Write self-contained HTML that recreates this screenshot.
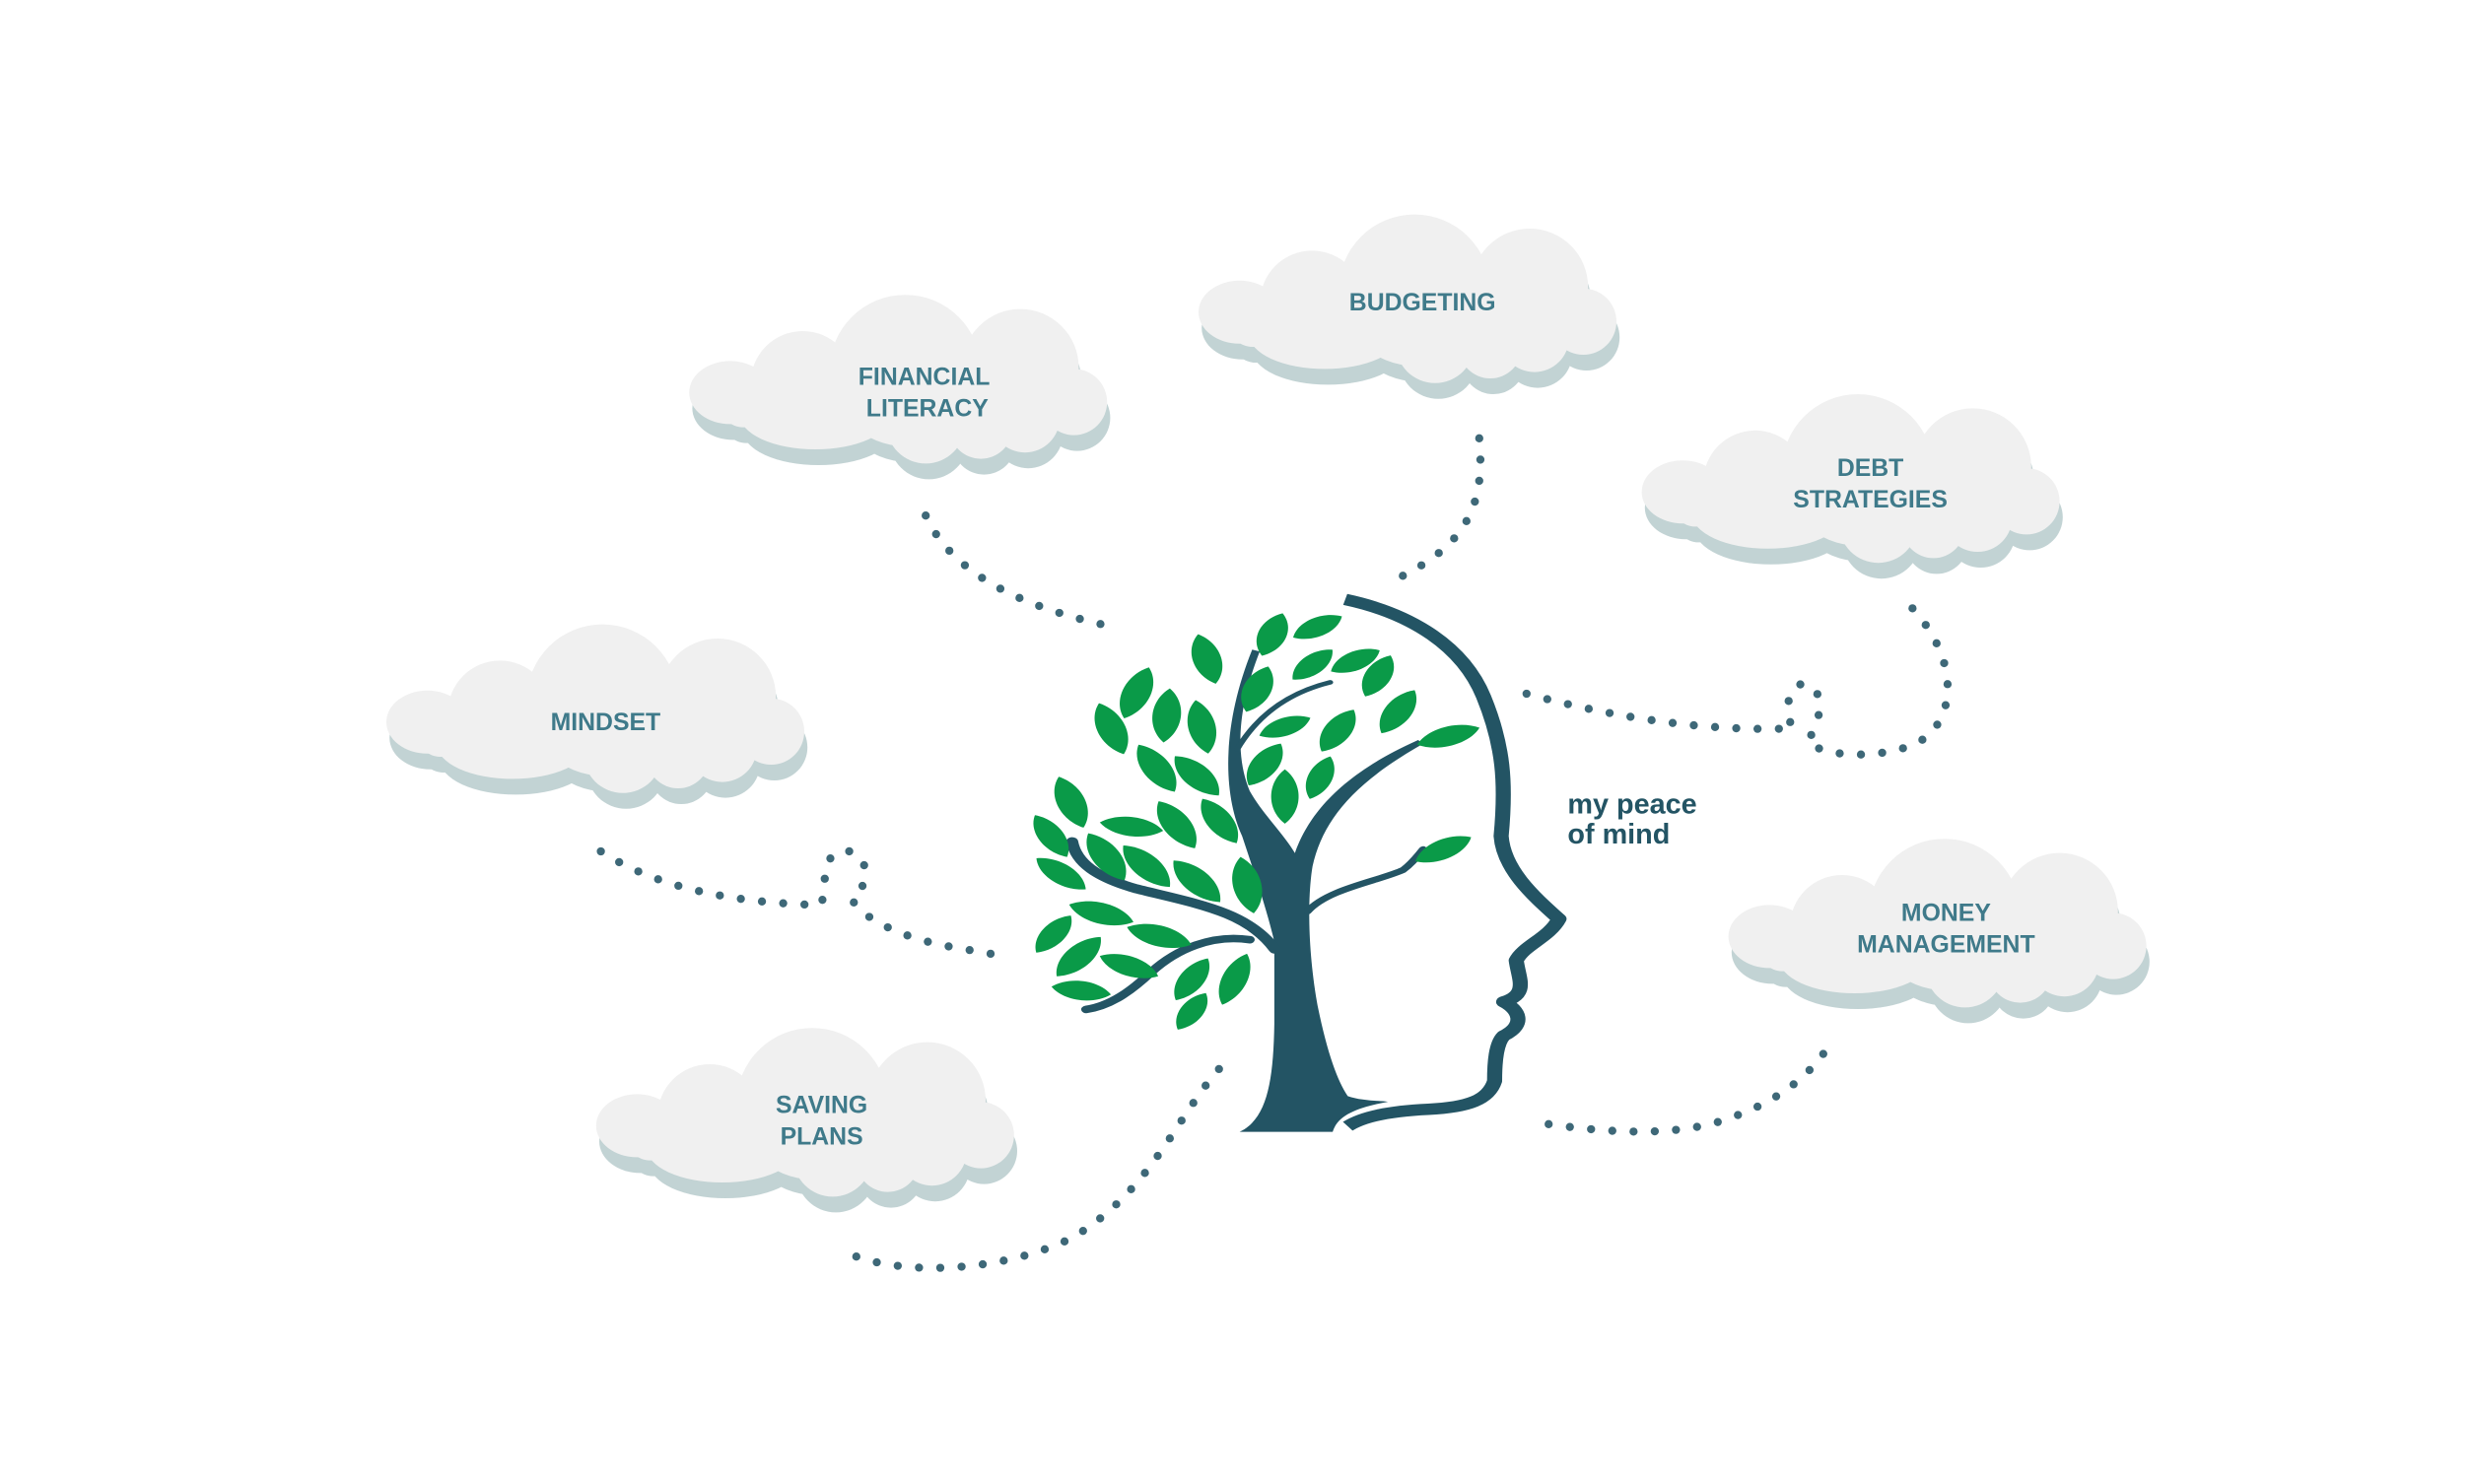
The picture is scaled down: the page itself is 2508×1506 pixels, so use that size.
<!DOCTYPE html>
<html><head><meta charset="utf-8"><style>
html,body{margin:0;padding:0;background:#fff;}
svg{display:block;}
.t{font-family:"Liberation Sans",sans-serif;font-weight:bold;fill:#3f7a8a;font-size:15.5px;text-anchor:middle;}
.d{fill:none;stroke:#3e6878;stroke-width:5.2;stroke-linecap:round;stroke-dasharray:0 13.5;}
</style></head><body>
<svg width="2508" height="1506" viewBox="0 0 1567.5 941.25" preserveAspectRatio="none" xmlns="http://www.w3.org/2000/svg">
<defs>
<g id="cs">
  <ellipse cx="26" cy="62" rx="26" ry="20"/>
  <circle cx="72" cy="56" r="33"/>
  <circle cx="137" cy="48" r="48"/>
  <circle cx="210" cy="46" r="37"/>
  <circle cx="244" cy="68" r="21"/>
  <rect x="20" y="48" width="228" height="36" rx="14"/>
  <ellipse cx="80" cy="76" rx="48" ry="22"/>
  <circle cx="150" cy="82" r="25"/>
  <circle cx="185" cy="84" r="20"/>
  <circle cx="213" cy="78" r="22"/>
</g>
<g id="cloud">
  <use href="#cs" x="2" y="10" fill="#c2d3d4"/>
  <use href="#cs" fill="#f0f0f0"/>
</g>
<path id="leaf" d="M0,-20 C13,-10 13,10 0,20 C-13,10 -13,-10 0,-20Z"/>
</defs>

<use href="#cloud" x="437" y="187"/>
<text class="t" x="586" y="244">FINANCIAL</text><text class="t" x="588" y="264">LITERACY</text>
<use href="#cloud" x="760" y="136"/>
<text class="t" x="902" y="197">BUDGETING</text>
<use href="#cloud" x="1041" y="250"/>
<text class="t" x="1186" y="302">DEBT</text><text class="t" x="1186" y="322">STRATEGIES</text>
<use href="#cloud" x="245" y="396"/>
<text class="t" x="384" y="463">MINDSET</text>
<use href="#cloud" x="1096" y="532"/>
<text class="t" x="1234" y="584">MONEY</text><text class="t" x="1234" y="604">MANAGEMENT</text>
<use href="#cloud" x="378" y="652"/>
<text class="t" x="521" y="706">SAVING</text><text class="t" x="521" y="726">PLANS</text>

<path class="d" d="M587,327 Q610,378 708,398"/>
<path class="d" d="M938,278 C942,320 930,345 888,366"/>
<path class="d" d="M968,440 Q1060,465 1137,462 C1130,450 1135,432 1145,434 C1158,437 1155,458 1146,470 C1155,480 1190,482 1214,472 C1240,460 1245,420 1211,384"/>
<path class="d" d="M381,540 Q430,572 520,574 C526,565 518,545 533,540 C548,537 556,558 540,570 C546,582 570,594 600,600 L640,607"/>
<path class="d" d="M543,797 C580,810 640,805 680,785 C730,755 745,710 773,678"/>
<path class="d" d="M982,713 C1030,720 1070,720 1100,708 C1130,697 1150,680 1161,661"/>

<g transform="translate(625,363) scale(0.3189,0.239)">
  <path d="M715,72 C850,110 950,200 990,330 C1030,460 1035,560 1025,700 C1030,790 1090,860 1140,920 C1120,970 1070,990 1055,1030 C1060,1080 1080,1120 1030,1140 C1060,1160 1075,1200 1030,1230 C1015,1250 1012,1300 1012,1350 C1000,1400 960,1420 880,1425 C800,1430 750,1445 720,1470" fill="none" stroke="#235464" stroke-width="30" stroke-linejoin="round"/>
  <g fill="#235464">
    <path d="M505,1485 C560,1450 572,1350 574,1200 L574,980 C560,900 535,800 510,700 C475,600 465,420 530,205 L545,210 C495,380 500,500 525,580 C550,640 590,690 615,745 C640,650 700,540 860,445 L870,455 C730,560 670,660 650,780 C640,860 640,1000 660,1150 C680,1280 700,1350 720,1390 C745,1402 780,1402 800,1405 C740,1420 700,1440 690,1485 Z"/>
  </g>
  <g fill="none" stroke="#235464" stroke-linecap="round">
    <path d="M575,1000 C520,900 420,880 300,840 C220,810 180,770 172,715" stroke-width="24"/>
    <path d="M525,975 C450,960 380,1000 330,1060 C290,1110 250,1150 200,1160" stroke-width="20"/>
    <path d="M640,900 C680,840 780,820 830,790 C850,770 860,750 870,735" stroke-width="16"/>
    <path d="M500,470 C540,380 600,320 685,292" stroke-width="12"/>
  </g>
  <g fill="#0a9a48">
    <use href="#leaf" transform="translate(570,165) rotate(20) scale(2.9,3)"/>
    <use href="#leaf" transform="translate(660,145) rotate(60) scale(2.5,2.8)"/>
    <use href="#leaf" transform="translate(440,230) rotate(-15) scale(2.9,3.4)"/>
    <use href="#leaf" transform="translate(540,310) rotate(20) scale(2.9,3.2)"/>
    <use href="#leaf" transform="translate(650,245) rotate(45) scale(2.5,2.8)"/>
    <use href="#leaf" transform="translate(735,235) rotate(60) scale(2.5,2.8)"/>
    <use href="#leaf" transform="translate(780,275) rotate(25) scale(2.7,3)"/>
    <use href="#leaf" transform="translate(300,320) rotate(20) scale(2.9,3.6)"/>
    <use href="#leaf" transform="translate(360,380) rotate(5) scale(2.9,3.6)"/>
    <use href="#leaf" transform="translate(430,410) rotate(-10) scale(2.8,3.6)"/>
    <use href="#leaf" transform="translate(820,370) rotate(30) scale(2.8,3.3)"/>
    <use href="#leaf" transform="translate(595,410) rotate(65) scale(2.4,2.8)"/>
    <use href="#leaf" transform="translate(700,420) rotate(30) scale(2.8,3.2)"/>
    <use href="#leaf" transform="translate(920,435) rotate(70) scale(2.6,3.3)"/>
    <use href="#leaf" transform="translate(250,415) rotate(-20) scale(2.9,3.6)"/>
    <use href="#leaf" transform="translate(340,520) rotate(-30) scale(2.9,3.6)"/>
    <use href="#leaf" transform="translate(420,540) rotate(-40) scale(2.9,3.4)"/>
    <use href="#leaf" transform="translate(555,510) rotate(30) scale(2.8,3.2)"/>
    <use href="#leaf" transform="translate(665,545) rotate(20) scale(2.5,3)"/>
    <use href="#leaf" transform="translate(170,610) rotate(-20) scale(2.9,3.6)"/>
    <use href="#leaf" transform="translate(595,595) rotate(0) scale(2.8,3.6)"/>
    <use href="#leaf" transform="translate(290,675) rotate(-80) scale(2.6,3.2)"/>
    <use href="#leaf" transform="translate(380,670) rotate(-30) scale(2.9,3.6)"/>
    <use href="#leaf" transform="translate(465,660) rotate(-30) scale(2.7,3.4)"/>
    <use href="#leaf" transform="translate(130,700) rotate(-30) scale(2.6,3.2)"/>
    <use href="#leaf" transform="translate(150,800) rotate(-50) scale(2.6,3.2)"/>
    <use href="#leaf" transform="translate(240,755) rotate(-30) scale(2.9,3.6)"/>
    <use href="#leaf" transform="translate(320,780) rotate(-40) scale(2.9,3.6)"/>
    <use href="#leaf" transform="translate(420,820) rotate(-40) scale(2.9,3.6)"/>
    <use href="#leaf" transform="translate(520,830) rotate(-10) scale(2.9,3.8)"/>
    <use href="#leaf" transform="translate(910,735) rotate(60) scale(2.6,3.2)"/>
    <use href="#leaf" transform="translate(230,905) rotate(-70) scale(2.8,3.4)"/>
    <use href="#leaf" transform="translate(135,960) rotate(35) scale(2.5,3)"/>
    <use href="#leaf" transform="translate(345,965) rotate(-70) scale(2.8,3.4)"/>
    <use href="#leaf" transform="translate(185,1020) rotate(40) scale(2.8,3.4)"/>
    <use href="#leaf" transform="translate(285,1045) rotate(-65) scale(2.6,3.2)"/>
    <use href="#leaf" transform="translate(190,1110) rotate(-80) scale(2.6,3)"/>
    <use href="#leaf" transform="translate(410,1080) rotate(30) scale(2.6,3.2)"/>
    <use href="#leaf" transform="translate(495,1080) rotate(20) scale(2.6,3.6)"/>
    <use href="#leaf" transform="translate(410,1165) rotate(30) scale(2.4,2.8)"/>
  </g>
</g>
<text x="994" y="516" style="font-family:'Liberation Sans',sans-serif;font-size:18px;font-weight:bold;fill:#235464">my peace</text>
<text x="994" y="535" style="font-family:'Liberation Sans',sans-serif;font-size:18px;font-weight:bold;fill:#235464">of mind</text>
</svg>
</body></html>
